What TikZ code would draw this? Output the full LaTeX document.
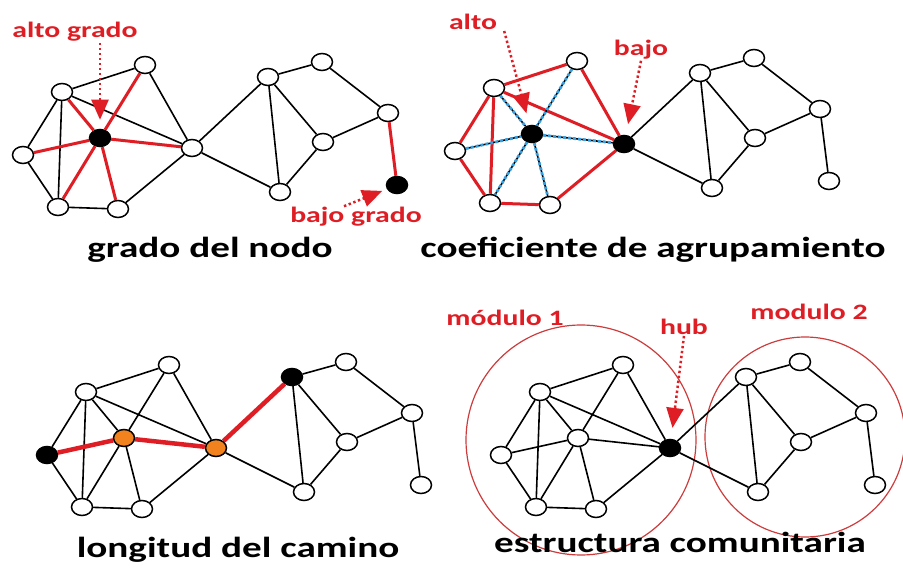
\documentclass[tikz,border=0pt]{standalone}
\usepackage{fontspec}
\setmainfont{Carlito}[FakeStretch=1.35]
\usetikzlibrary{shapes.geometric,arrows.meta}
\definecolor{rougeR}{RGB}{222,30,36}
\definecolor{rougeM}{RGB}{205,60,60}
\definecolor{orangeN}{RGB}{242,130,30}
\definecolor{bleuC}{RGB}{55,160,225}

% positions du reseau (panneau 1) et liste des aretes
\newcommand{\noeuds}{a/62/92, b/145/65, c/23/155, d/100/138, e/58/207, f/118/209, g/192/148,
  h/268/77, i/322/62, j/388/113, k/323/142, l/280/192, m/397/185}
\newcommand{\aretes}{a/b, a/c, a/e, a/g, b/g, c/e, e/f, f/g, g/h, g/l, h/i, h/k, h/l,
  i/j, j/k, k/l, j/m, a/d, b/d, c/d, d/e, d/f, d/g}
\newcommand{\reseau}[2]{%
  \begin{scope}[shift={#2}]
    \foreach \n/\x/\y in \noeuds {\node[nd, n-\n/.try] (#1\n) at (\x,\y) {};}
  \end{scope}
  \foreach \u/\v in \aretes {\draw[arete, e-\u\v/.try] (#1\u) -- (#1\v);}
}

\begin{document}
\begin{tikzpicture}[x=1pt, y=-1pt,
    nd/.style={ellipse, draw=black, line width=1.5pt, fill=white, minimum width=21pt, minimum height=17pt, inner sep=0pt},
    noir/.style={fill=black},
    orng/.style={fill=orangeN},
    arete/.style={draw=black, line width=1.6pt},
    rouge/.style={draw=rougeR, line width=3pt},
    chemin/.style={draw=rougeR, line width=4.5pt},
    bleu/.style={postaction={draw=bleuC, line width=2.8pt, dash pattern=on 3pt off 2pt}},
    rougir/.style={e-#1/.style=rouge},
    bleuir/.style={e-#1/.style=bleu},
    fleche/.style={draw=rougeR, line width=2.5pt, dash pattern=on 2.4pt off 2.6pt, -{Triangle[length=20pt, width=17pt]}},
    etiq/.style={text=rougeR, font=\bfseries\fontsize{22}{22}\selectfont, inner sep=1pt},
    titre/.style={font=\bfseries\fontsize{29}{29}\selectfont, inner sep=0pt},
    modu/.style={circle, draw=rougeM, line width=1.2pt}]
  \useasboundingbox (0,0) rectangle (903,569);

  % grado del nodo
  \begin{scope}[n-d/.style=noir, n-m/.style=noir, rougir/.list={ad,bd,cd,de,df,dg,jm}]
    \reseau{p1}{(0,0)}
  \end{scope}
  \node[etiq] (altog) at (75,32) {alto grado};
  \node[etiq] (bajog) at (356,217) {bajo grado};
  \draw[fleche, shorten >=9pt] (altog.south -| p1d) -- (p1d);
  \draw[fleche, shorten >=5pt] ([xshift=-12pt]bajog.north) -- (p1m);
  \node[titre] (t1) at (210,250) {grado del nodo};

  % coeficiente de agrupamiento
  \begin{scope}[n-d/.style=noir, n-g/.style=noir, rougir/.list={ab,ac,ae,ag,bg,ce,ef,fg},
      bleuir/.list={ad,bd,cd,de,df,dg}]
    \reseau{p2}{(432,-4)}
  \end{scope}
  \node[etiq] (alto) at (473,22) {alto};
  \node[etiq] (bajo) at (641,50) {bajo};
  \draw[fleche, shorten >=12pt] ([xshift=6pt]alto.south east) -- (p2d);
  \draw[fleche, shorten >=11pt] (bajo.south) -- (p2g);
  \node[titre] (t2) at (653,250) {coeficiente de agrupamiento};

  % longitud del camino
  \begin{scope}[n-c/.style=noir, n-h/.style=noir, n-d/.style=orng, n-g/.style=orng,
      e-cd/.style=chemin, e-dg/.style=chemin, e-gh/.style=chemin]
    \reseau{p3}{(24,300)}
  \end{scope}
  \node[titre] (t3) at (238,550) {longitud del camino};

  % estructura comunitaria
  \node[modu, minimum size=230pt] (mod1) at (581,440) {};
  \node[modu, minimum size=200pt] (mod2) at (805,437) {};
  \begin{scope}[n-g/.style=noir]
    \reseau{p4}{(478,300)}
  \end{scope}
  \node[etiq] (lmod1) at (505,318) {módulo 1};
  \node[etiq] (lmod2) at (809,312) {modulo 2};
  \node[etiq] (hub) at (684,327) {hub};
  \draw[fleche, shorten >=11pt] (hub.south) -- (p4g);
  \node[titre] (t4) at (680,542) {estructura comunitaria};
\end{tikzpicture}
\end{document}
